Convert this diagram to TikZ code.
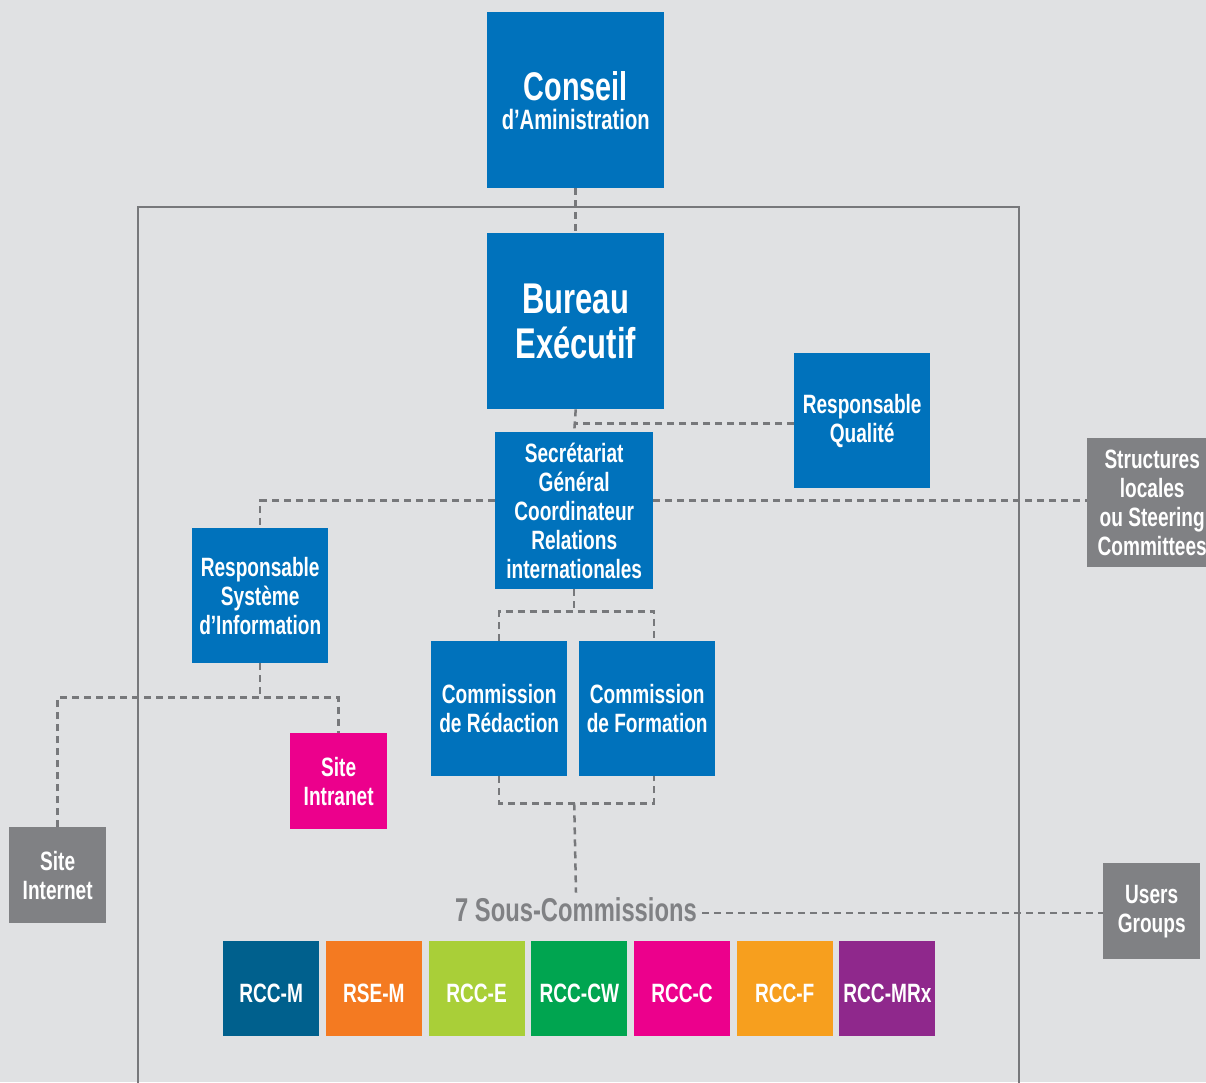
\documentclass[tikz,border=0pt]{standalone}
\usepackage{fontspec}
\setmainfont{Liberation Sans}[FakeStretch=0.72]
\usetikzlibrary{calc}
\usetikzlibrary{positioning}
\definecolor{custom-bg}{RGB}{224,225,227}
\definecolor{custom-blue}{RGB}{0,114,188}
\definecolor{custom-grey}{RGB}{128,129,132}
\definecolor{custom-line}{RGB}{119,120,123}
\definecolor{custom-magenta}{RGB}{236,0,140}
\definecolor{custom-navy}{RGB}{0,96,141}
\definecolor{custom-orange}{RGB}{244,122,33}
\definecolor{custom-lime}{RGB}{169,207,56}
\definecolor{custom-green}{RGB}{0,165,80}
\definecolor{custom-amber}{RGB}{247,159,30}
\definecolor{custom-purple}{RGB}{143,40,140}
\tikzset{
  box/.style={rectangle, fill=custom-blue, text=white, inner sep=0pt, align=center,
    anchor=north west, font=\bfseries\fontsize{26.5}{29}\selectfont},
  link/.style={draw=custom-line, line width=2.5pt, dash pattern=on 7pt off 5pt},
  frame/.style={draw=custom-line, line width=2.5pt},
}

\begin{document}
\begin{tikzpicture}[x=1pt,y=-1pt]
\useasboundingbox (0,0) rectangle (1206,1082);
\clip (0,0) rectangle (1206,1082);
\fill[custom-bg] (0,0) rectangle (1206,1082);
\draw[frame] (138,207) rectangle (1019,1100);

\node[box, minimum width=177, minimum height=176] (conseil) at (487,12)
  {{\fontsize{40}{42}\selectfont Conseil}\\{\fontsize{28}{32}\selectfont d’Aministration}};
\node[box, minimum width=177, minimum height=176, font=\bfseries\fontsize{43}{45}\selectfont] (bureau) at (487,233)
  {Bureau\\Exécutif};
\node[box, minimum width=136, minimum height=135] (qualite) at (794,353) {Responsable\\Qualité};
\node[box, minimum width=158, minimum height=157] (secretariat) at (495,432)
  {Secrétariat\\Général\\Coordinateur\\Relations\\internationales};
\node[box, minimum width=136, minimum height=135] (rsi) at (192,528)
  {Responsable\\Système\\d’Information};
\node[box, minimum width=136, minimum height=135] (redaction) at (431,641) {Commission\\de Rédaction};
\node[box, minimum width=136, minimum height=135] (formation) at (579,641) {Commission\\de Formation};
\node[box, fill=custom-magenta, minimum width=97, minimum height=96] (intranet) at (290,733) {Site\\Intranet};
\node[box, fill=custom-grey, minimum width=97, minimum height=96] (internet) at (9,827) {Site\\Internet};
\node[box, fill=custom-grey, minimum width=130, minimum height=129] (structures) at (1087,438)
  {Structures\\locales\\ou Steering\\Committees};
\node[box, fill=custom-grey, minimum width=97, minimum height=96] (users) at (1103,863) {Users\\Groups};
\node[font=\bfseries\fontsize{33}{35}\selectfont, text=custom-grey, inner sep=5pt] (sous) at (576,910)
  {7 Sous-Commissions};

\foreach \lab/\col [count=\i from 0] in {RCC-M/custom-navy, RSE-M/custom-orange, RCC-E/custom-lime,
    RCC-CW/custom-green, RCC-C/custom-magenta, RCC-F/custom-amber, RCC-MRx/custom-purple}
  \node[box, fill=\col, minimum width=96, minimum height=95, text height=27pt, text depth=0pt] (rcc\i) at (223+\i*102.7,941) {\lab};

\draw[link] (conseil.south) -- (bureau.north);
\draw[link] (bureau.south) -- (secretariat.north);
\draw[link] ([yshift=-3pt]qualite.west) -- ([yshift=-3pt]qualite.west -| bureau.south);
\draw[link] ([yshift=10pt]secretariat.west) -| (rsi.north);
\draw[link] ([yshift=10pt]secretariat.east) -- ([yshift=10pt]secretariat.east -| structures.west);
\draw[link] (secretariat.south) -- ++(0,22) coordinate (ctop);
\draw[link] (redaction.north) |- (ctop) -| ([xshift=7pt]formation.north);
\draw[link] (redaction.south) |- ($(ctop)+(0,192)$) coordinate (cbot) -| ([xshift=7pt]formation.south);
\draw[link] (cbot) -- (sous.north);
\draw[link] ([yshift=-3pt]sous.east) -- ([yshift=-3pt]sous.east -| users.west);
\draw[link] (rsi.south) -- ++(0,34) coordinate (rsib);
\draw[link] (internet.north) |- (rsib) -| (intranet.north);
\end{tikzpicture}
\end{document}
